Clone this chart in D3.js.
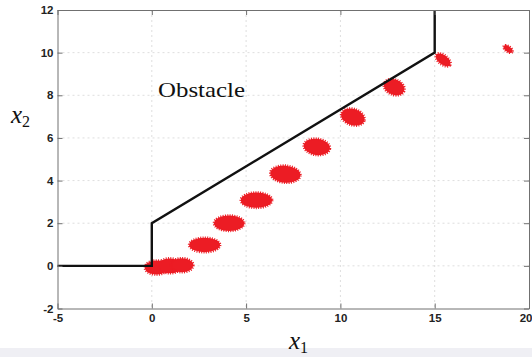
<!DOCTYPE html>
<html>
<head>
<meta charset="utf-8">
<script src="https://cdn.jsdelivr.net/npm/d3@7/dist/d3.min.js"></script>
<style>
  html, body { margin: 0; padding: 0; background: #fff; }
  svg { display: block; }
  .tick text { font-family: "Liberation Sans", Arial, sans-serif; font-weight: bold; font-size: 11.5px; fill: #222; }
  .axis path, .axis line { stroke: #707070; }
  .math { font-family: "Liberation Serif", "DejaVu Serif", serif; fill: #111; }
</style>
</head>
<body>
<div id="chart"></div>
<script>
const xTicks = [-5, 0, 5, 10, 15, 20];
const yTicks = [-2, 0, 2, 4, 6, 8, 10, 12];

// obstacle boundary (x1, x2)
const obstacleX = [-5, 0, 0, 15, 15];
const obstacleY = [0, 0, 2, 10, 12];

// sample clouds: centre, half-spread in data units, tilt (deg)
const cloudX = [0.25, 0.95, 1.6, 2.8, 4.1, 5.55, 7.08, 8.75, 10.66, 12.85, 15.45, 18.89];
const cloudY = [-0.08, 0.0, 0.03, 0.98, 2.0, 3.08, 4.3, 5.58, 6.98, 8.38, 9.66, 10.17];
const cloudSx = [0.62, 0.62, 0.6, 0.82, 0.8, 0.83, 0.8, 0.7, 0.64, 0.57, 0.46, 0.27];
const cloudSy = [0.33, 0.35, 0.33, 0.34, 0.36, 0.36, 0.4, 0.38, 0.38, 0.36, 0.22, 0.13];
const cloudTilt = [0, 0, 0, 0, 0, 0, 5, 8, 18, 22, 38, 35];

const W = 532, H = 357;
const margin = { top: 10, right: 3, bottom: 48.5, left: 57.5 };

const svg = d3.select('#chart').append('svg').attr('width', W).attr('height', H);

svg.append('rect').attr('x', 0).attr('y', 348).attr('width', W).attr('height', H - 348).attr('fill', '#efeff4');

const x = d3.scaleLinear().domain([-5, 20]).range([margin.left, W - margin.right]);
const y = d3.scaleLinear().domain([-2, 12]).range([H - margin.bottom, margin.top]);

// grid
const grid = svg.append('g').attr('stroke', '#dedede').attr('stroke-dasharray', '2,3').attr('stroke-width', 1);
grid.selectAll('line.v').data(xTicks.slice(1, -1)).join('line').attr('class', 'v')
  .attr('x1', (d) => x(d)).attr('x2', (d) => x(d)).attr('y1', y(12)).attr('y2', y(-2));
grid.selectAll('line.h').data(yTicks.slice(1, -1)).join('line').attr('class', 'h')
  .attr('x1', x(-5)).attr('x2', x(20)).attr('y1', (d) => y(d)).attr('y2', (d) => y(d));

// clouds
const clouds = svg.append('g');
clouds.selectAll('ellipse').data(cloudX.map((cx, i) => i)).join('ellipse')
  .attr('cx', 0).attr('cy', 0)
  .attr('rx', (i) => x(cloudSx[i]) - x(0))
  .attr('ry', (i) => y(0) - y(cloudSy[i]))
  .attr('transform', (i) => `translate(${x(cloudX[i])},${y(cloudY[i])}) rotate(${cloudTilt[i]})`)
  .attr('fill', '#ec1c24')
  .attr('stroke', '#ec1c24')
  .attr('stroke-width', 2.6)
  .attr('stroke-dasharray', '1,1.3');

// obstacle
const line = d3.line().x((i) => x(obstacleX[i])).y((i) => y(obstacleY[i]));
svg.append('path').datum(obstacleX.map((d, i) => i)).attr('d', line)
  .attr('fill', 'none').attr('stroke', '#111').attr('stroke-width', 2.4).attr('stroke-linejoin', 'miter');

// axes box
const fmt = (d) => (d < 0 ? '-' + Math.abs(d) : String(d));
const bottomAxis = svg.append('g').attr('class', 'axis').attr('transform', `translate(0,${y(-2)})`)
  .call(d3.axisBottom(x).tickValues(xTicks).tickSizeInner(-5).tickSizeOuter(0).tickPadding(5).tickFormat(fmt));
// keep the last label inside the window
bottomAxis.selectAll('.tick text').filter((d) => d === 20).attr('text-anchor', 'end').attr('dx', 3);
svg.append('g').attr('class', 'axis').attr('transform', `translate(0,${y(12)})`)
  .call(d3.axisTop(x).tickValues(xTicks).tickSizeInner(-5).tickSizeOuter(0).tickFormat(''));
svg.append('g').attr('class', 'axis').attr('transform', `translate(${x(-5)},0)`)
  .call(d3.axisLeft(y).tickValues(yTicks).tickSizeInner(-5).tickSizeOuter(0).tickPadding(4).tickFormat(fmt));
svg.append('g').attr('class', 'axis').attr('transform', `translate(${x(20)},0)`)
  .call(d3.axisRight(y).tickValues(yTicks).tickSizeInner(-5).tickSizeOuter(0).tickFormat(''));

// labels
svg.append('text').attr('class', 'math').attr('x', 158).attr('y', 97)
  .attr('font-size', 22).attr('textLength', 87).attr('lengthAdjust', 'spacingAndGlyphs').text('Obstacle');

const xl = svg.append('text').attr('class', 'math').attr('x', 289).attr('y', 349);
xl.append('tspan').attr('font-style', 'italic').attr('font-size', 25).text('x');
xl.append('tspan').attr('font-size', 16).attr('dy', 4).text('1');

const yl = svg.append('text').attr('class', 'math').attr('x', 11).attr('y', 123);
yl.append('tspan').attr('font-style', 'italic').attr('font-size', 25).text('x');
yl.append('tspan').attr('font-size', 16).attr('dy', 4).text('2');
</script>
</body>
</html>
